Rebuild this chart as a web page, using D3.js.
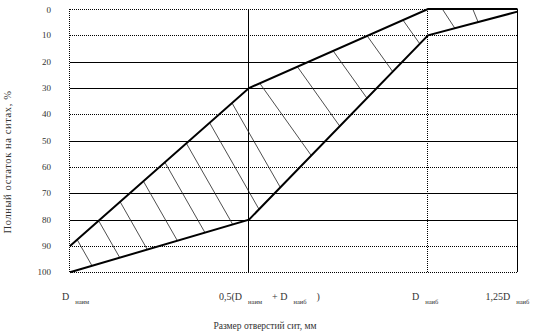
<!DOCTYPE html>
<html>
<head>
<meta charset="utf-8">
<script src="https://cdn.jsdelivr.net/npm/d3@7"></script>
<style>
  body { margin: 0; background: #fff; }
  text { font-family: "Liberation Serif", "DejaVu Serif", serif; fill: #333; }
</style>
</head>
<body>
<svg id="chart" width="538" height="335"></svg>
<script>
// Sieve size positions (0 = D наим, 1 = middle, 2 = D наиб, 2.5 = 1,25 D наиб)
var sizeTicks = [0, 1, 2, 2.5];
var yTicks = [0, 10, 20, 30, 40, 50, 60, 70, 80, 90, 100];
var solidRows = [20, 30, 50, 70, 80];
var solidCols = [1, 2.5];

// Upper and lower bounds of the zone (total residue, %)
var upperU = [0, 1, 2, 2.5];
var upperV = [90, 30, 0, 0];
var lowerU = [0, 1, 2, 2.5];
var lowerV = [100, 80, 10, 1];

// Hatch strokes: start on the upper bound, end on the lower bound
var hatchFrom = [0.04, 0.16, 0.28, 0.41, 0.53, 0.65, 0.78, 0.905, 1.06, 1.27, 1.47, 1.66, 1.86, 2.08, 2.25];
var hatchTo   = [0.123, 0.278, 0.432, 0.60, 0.754, 0.909, 1.056, 1.175, 1.348, 1.507, 1.659, 1.803, 1.954, 2.15, 2.28];

var svg = d3.select("#chart");

var x = d3.scaleLinear().domain([0, 2.5]).range([70, 517.5]);
var y = d3.scaleLinear().domain([0, 100]).range([9, 272.3]);

function interp(us, vs, u) {
    return d3.scaleLinear().domain(us).range(vs)(u);
}

// Horizontal grid
svg.append("g").selectAll("line")
    .data(yTicks)
    .enter().append("line")
    .attr("x1", x(0)).attr("x2", x(2.5))
    .attr("y1", d => Math.round(y(d)) + 0.5)
    .attr("y2", d => Math.round(y(d)) + 0.5)
    .style("stroke", "#000")
    .style("stroke-width", d => solidRows.indexOf(d) >= 0 ? 1.3 : 1)
    .style("stroke-dasharray", d => solidRows.indexOf(d) >= 0 ? null : "1,1")
    .style("shape-rendering", "crispEdges");

// Vertical grid
svg.append("g").selectAll("line")
    .data(sizeTicks)
    .enter().append("line")
    .attr("x1", d => Math.round(x(d)) - 0.5)
    .attr("x2", d => Math.round(x(d)) - 0.5)
    .attr("y1", y(0)).attr("y2", y(100))
    .style("stroke", "#000")
    .style("stroke-width", d => solidCols.indexOf(d) >= 0 ? 1.3 : 1)
    .style("stroke-dasharray", d => solidCols.indexOf(d) >= 0 ? null : "1,1")
    .style("shape-rendering", "crispEdges");

// Hatching
svg.append("g").selectAll("line")
    .data(hatchFrom)
    .enter().append("line")
    .attr("x1", d => x(d))
    .attr("y1", d => y(interp(upperU, upperV, d)))
    .attr("x2", (d, i) => x(hatchTo[i]))
    .attr("y2", (d, i) => y(interp(lowerU, lowerV, hatchTo[i])))
    .style("stroke", "#222")
    .style("stroke-width", 0.8);

// Bounds
var line = d3.line().x(d => x(d[0])).y(d => y(d[1]));
[[upperU, upperV], [lowerU, lowerV]].forEach(function(c) {
    svg.append("path")
        .datum(d3.zip(c[0], c[1]))
        .attr("d", line)
        .style("fill", "none")
        .style("stroke", "#000")
        .style("stroke-width", 2);
});

// Y tick labels
svg.append("g").selectAll("text")
    .data(yTicks)
    .enter().append("text")
    .attr("x", 51)
    .attr("y", d => y(d) + (d === 0 ? 4 : 3))
    .attr("text-anchor", "end")
    .style("font-size", "9px")
    .text(d => d);

// X tick labels (with subscripts)
var xLabels = [
    { u: 0, dx: -8, parts: [["D", 0], ["наим", 1]] },
    { u: 1, dx: -30, parts: [["0,5(D", 0], ["наим", 1], ["+ D", 0], ["наиб", 1], [")", 0]] },
    { u: 2, dx: -16, parts: [["D", 0], ["наиб", 1]] },
    { u: 2.5, dx: -32, parts: [["1,25D", 0], ["наиб", 1]] }
];
xLabels.forEach(function(l) {
    var t = svg.append("text")
        .attr("x", x(l.u) + l.dx)
        .attr("y", 300)
        .style("font-size", "10px");
    l.parts.forEach(function(p, i) {
        t.append("tspan")
            .attr("dx", p[1] ? 6 : (i > 0 ? 10 : 0))
            .attr("y", p[1] ? 304 : 300)
            .style("font-size", p[1] ? "6.5px" : "10px")
            .text(p[0]);
    });
});

// Axis titles
svg.append("text")
    .attr("x", 265)
    .attr("y", 329)
    .attr("text-anchor", "middle")
    .style("font-size", "9.5px")
    .text("Размер отверстий сит, мм");

svg.append("text")
    .attr("transform", "translate(11,162) rotate(-90)")
    .attr("text-anchor", "middle")
    .style("font-size", "10.5px")
    .style("letter-spacing", "0.6px")
    .text("Полный остаток на ситах, %");
</script>
</body>
</html>
